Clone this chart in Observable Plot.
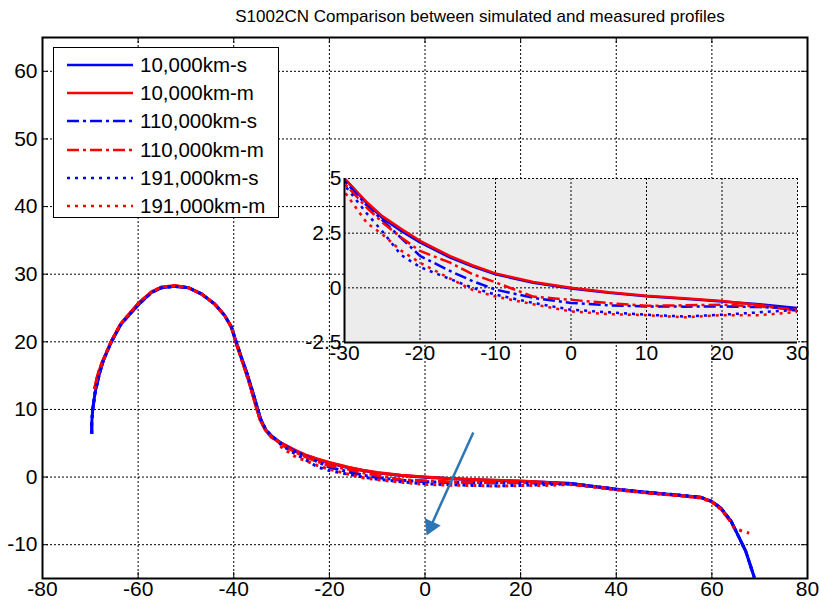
<!DOCTYPE html>
<html>
<head>
<meta charset="utf-8">
<script src="https://cdn.jsdelivr.net/npm/d3@7"></script>
<script src="https://cdn.jsdelivr.net/npm/@observablehq/plot@0.6"></script>
<style>
  html, body { margin: 0; padding: 0; background: #fff; }
  #page { position: relative; width: 819px; height: 605px; font-family: "Liberation Sans", Arial, sans-serif; }
  #title { height: 30px; line-height: 34px; font-size: 17px; text-align: center; width: 678px; margin-left: 141px; color: #000; white-space: nowrap; }
  #inset { position: absolute; left: 294px; top: 172px; }
  #legend { position: absolute; left: 53px; top: 47px; width: 224px; height: 169px; border: 1.5px solid #000; background: #fff; }
  .lrow { position: absolute; left: 0; height: 28px; width: 224px; }
  .lrow svg { position: absolute; left: 13px; top: 0; }
  .lrow span { position: absolute; left: 86px; top: 0; line-height: 28px; font-size: 20.5px; color: #000; white-space: nowrap; }
</style>
</head>
<body>
<div id="page">
  <div id="title">S1002CN Comparison between simulated and measured profiles</div>
  <div id="main"></div>
  <div id="inset"></div>
  <div id="legend"></div>
</div>
<script>
// ---- tick labels ----
const xTicks = [-80, -60, -40, -20, 0, 20, 40, 60, 80];
const yTicks = [-10, 0, 10, 20, 30, 40, 50, 60];
const insetXTicks = [-30, -20, -10, 0, 10, 20, 30];
const insetYTicks = [-2.5, 0, 2.5, 5];

// ---- series ----
const seriesNames = ["10,000km-s", "10,000km-m", "110,000km-s", "110,000km-m", "191,000km-s", "191,000km-m"];
const seriesColors = ["#0000ff", "#ff0000", "#0000ff", "#ff0000", "#0000ff", "#ff0000"];
const seriesDash = [null, null, "12,4,3,4", "12,4,3,4", "3,5", "3,5"];

// flange part (simulated / measured)
const flangeSX = [-69.7, -69.7, -69.5, -69.0, -68.2, -67.3, -65.6, -63.5, -61.7, -59.8, -57.2, -55.1, -52.3, -49.5, -46.8, -44.0, -41.9, -40.5, -39.5, -38.4, -37.4, -36.3, -35.3, -34.4, -33.3, -32.0, -31.0];
const flangeSY = [6.4, 8.0, 10.0, 12.5, 15.0, 17.2, 20.0, 22.7, 24.1, 25.6, 27.3, 28.0, 28.2, 28.0, 27.1, 25.6, 23.9, 22.2, 20.0, 17.7, 15.7, 13.2, 10.8, 8.6, 7.0, 6.0, 5.5];
const flangeMX = [-69.1, -68.5, -67.5, -65.8, -63.8, -61.8, -59.8, -57.2, -55.1, -52.3, -49.5, -46.8, -44.0, -41.9, -40.5, -39.6, -38.5, -37.5, -36.4, -35.4, -34.5, -33.4, -32.1, -31.0];
const flangeMY = [13.0, 15.0, 17.0, 19.8, 22.5, 24.2, 25.8, 27.4, 28.1, 28.3, 28.0, 27.1, 25.6, 23.9, 22.2, 20.0, 17.7, 15.6, 13.1, 10.6, 8.5, 7.0, 5.9, 5.4];

// tread part (-30 .. 30)
const treadX = [-30, -27, -25, -22.5, -20, -16, -13, -10, -5, 0, 5, 10, 15, 20, 25, 30];
const tread10sY  = [5.0, 3.85, 3.2, 2.6, 2.08, 1.38, 0.97, 0.62, 0.23, -0.03, -0.22, -0.38, -0.5, -0.62, -0.75, -0.92];
const tread10mY  = [5.0, 3.9, 3.28, 2.7, 2.15, 1.45, 1.02, 0.66, 0.27, 0.0, -0.2, -0.36, -0.48, -0.6, -0.78, -1.05];
const tread110sY = [4.9, 3.75, 3.1, 2.28, 1.46, 0.77, 0.3, -0.08, -0.46, -0.69, -0.8, -0.85, -0.86, -0.85, -0.88, -0.95];
const tread110mY = [4.77, 3.65, 3.0, 2.3, 1.69, 1.15, 0.62, 0.25, -0.4, -0.55, -0.7, -0.82, -0.8, -0.77, -0.85, -1.0];
const tread191sY = [4.7, 3.38, 2.59, 1.5, 0.95, 0.4, 0.0, -0.31, -0.69, -1.0, -1.12, -1.23, -1.31, -1.23, -1.12, -1.0];
const tread191mY = [4.4, 2.95, 2.45, 1.7, 1.15, 0.42, -0.1, -0.4, -0.75, -1.08, -1.2, -1.25, -1.35, -1.25, -1.25, -1.1];

// field side part
const fieldSX = [31, 35, 40, 47, 52, 57.7, 60, 61.9, 64, 65.6, 67.1, 68.9];
const fieldSY = [-1.0, -1.35, -1.8, -2.3, -2.6, -3.0, -3.6, -4.6, -6.5, -8.8, -11.0, -14.9];
const fieldMX = [31, 35, 40, 47, 52, 57.7, 60, 61.9, 63.5];
const fieldMY = [-1.1, -1.4, -1.85, -2.35, -2.65, -3.05, -3.65, -4.7, -6.2];
const field191mX = [31, 35, 40, 47, 52, 57.7, 60, 61.9, 63.5, 64.6, 66, 67.8];
const field191mY = [-1.15, -1.45, -1.9, -2.4, -2.7, -3.1, -3.7, -4.8, -6.2, -7.5, -7.9, -8.3];

// arrow
const arrowStart = [10.1, 6.6];
const arrowHead = [1.2, -7.3];

// ---- build rows ----
function seg(xs, ys) { return xs.map((x, i) => ({x, y: ys[i]})); }
const parts = [
  [seg(flangeSX, flangeSY), seg(treadX, tread10sY),  seg(fieldSX, fieldSY)],
  [seg(flangeMX, flangeMY), seg(treadX, tread10mY),  seg(fieldMX, fieldMY)],
  [seg(flangeSX, flangeSY), seg(treadX, tread110sY), seg(fieldSX, fieldSY)],
  [seg(flangeMX, flangeMY), seg(treadX, tread110mY), seg(fieldMX, fieldMY)],
  [seg(flangeSX, flangeSY), seg(treadX, tread191sY), seg(fieldSX, fieldSY)],
  [seg(flangeMX, flangeMY), seg(treadX, tread191mY), seg(field191mX, field191mY)]
];
const seriesData = parts.map(p => p.flat());

function lineMarks(width, clip) {
  return seriesData.map((d, i) => Plot.line(d, {
    x: "x", y: "y", stroke: seriesColors[i], strokeWidth: width,
    strokeDasharray: seriesDash[i], strokeLinecap: "butt", strokeLinejoin: "round", clip
  }));
}

const W = 819, H = 575, mL = 42, mR = 12, mT = 7, mB = 27;
const plotW = W - mL - mR, plotH = H - mT - mB;
const FS = 21;
const FONT = "Liberation Sans, Arial, sans-serif";

// tick labels as text marks with explicit size
function xLabels(ticks, dy) {
  return Plot.text(ticks, {x: d => d, frameAnchor: "bottom", dy, text: d => String(d), fontSize: FS, fontFamily: FONT, fill: "black", lineAnchor: "top"});
}
function yLabels(ticks, dx) {
  return Plot.text(ticks, {y: d => d, frameAnchor: "left", dx, text: d => String(d), fontSize: FS, fontFamily: FONT, fill: "black", textAnchor: "end"});
}

const main = Plot.plot({
  width: W, height: H,
  marginLeft: mL, marginRight: mR, marginTop: mT, marginBottom: mB,
  style: {background: "white", overflow: "visible"},
  x: {domain: [-80, 80], axis: null},
  y: {domain: [-15, 65], axis: null},
  marks: [
    Plot.ruleX(xTicks, {x: d => d, stroke: "black", strokeDasharray: "2,2", strokeWidth: 1}),
    Plot.ruleY(yTicks, {y: d => d, stroke: "black", strokeDasharray: "2,2", strokeWidth: 1}),
    ...lineMarks(3, false),
    Plot.link([0], {x1: () => arrowStart[0], y1: () => arrowStart[1], x2: () => arrowHead[0], y2: () => arrowHead[1], stroke: "#2e75b6", strokeWidth: 2.5}),
    Plot.dot([0], {x: () => arrowHead[0], y: () => arrowHead[1], symbol: "triangle", r: 5.5, fill: "#2e75b6", stroke: "#2e75b6", rotate: 204.5}),
    Plot.tickX(xTicks, {x: d => d, insetTop: plotH - 6, stroke: "black"}),
    Plot.tickX(xTicks, {x: d => d, insetBottom: plotH - 6, stroke: "black"}),
    Plot.tickY(yTicks, {y: d => d, insetRight: plotW - 6, stroke: "black"}),
    Plot.tickY(yTicks, {y: d => d, insetLeft: plotW - 6, stroke: "black"}),
    Plot.frame({stroke: "black", strokeWidth: 2}),
    xLabels(xTicks, 3),
    yLabels(yTicks, -5)
  ]
});
document.getElementById("main").appendChild(main);

// ---- inset ----
const iL = 50, iR = 8, iT = 6, iB = 26;
const iW = iL + 453 + iR, iH = iT + 164 + iB;
const inset = Plot.plot({
  width: iW, height: iH,
  marginLeft: iL, marginRight: iR, marginTop: iT, marginBottom: iB,
  style: {background: "transparent", overflow: "visible"},
  x: {domain: [-30, 30], axis: null},
  y: {domain: [-2.5, 5], axis: null},
  marks: [
    Plot.frame({fill: "#ececec", stroke: null}),
    Plot.ruleX(insetXTicks, {x: d => d, stroke: "black", strokeDasharray: "2,2", strokeWidth: 1}),
    Plot.ruleY(insetYTicks, {y: d => d, stroke: "black", strokeDasharray: "2,2", strokeWidth: 1}),
    ...lineMarks(2.5, true),
    Plot.ruleX([-30], {x: d => d, stroke: "black", strokeWidth: 2}),
    Plot.ruleY([-2.5], {y: d => d, stroke: "black", strokeWidth: 2}),
    xLabels(insetXTicks, 3),
    yLabels(insetYTicks, -3)
  ]
});
document.getElementById("inset").appendChild(inset);

// ---- legend ----
const legend = document.getElementById("legend");
seriesNames.forEach((name, i) => {
  const row = document.createElement("div");
  row.className = "lrow";
  row.style.top = (3 + i * 28.2) + "px";
  const dash = seriesDash[i] ? `stroke-dasharray="${seriesDash[i]}"` : "";
  row.innerHTML = `<svg width="66" height="28"><line x1="0" y1="14" x2="66" y2="14" stroke="${seriesColors[i]}" stroke-width="2.5" ${dash}/></svg><span>${name}</span>`;
  legend.appendChild(row);
});
</script>
</body>
</html>
